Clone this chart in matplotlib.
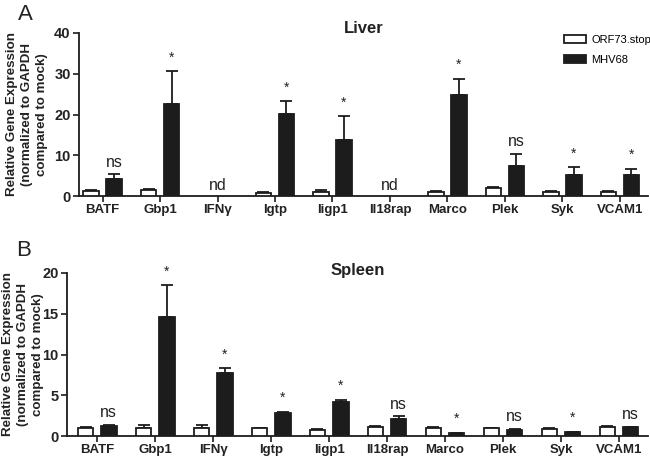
import numpy as np
import matplotlib
matplotlib.use("Agg")
import matplotlib.pyplot as plt
from matplotlib.patches import Patch

plt.rcParams['font.family'] = ['Liberation Sans', 'DejaVu Sans']

genes = ["BATF", "Gbp1", "IFNγ", "Igtp", "Iigp1", "Il18rap", "Marco", "Plek", "Syk", "VCAM1"]

# Liver (nan = not detected)
liver_stop = [1.2, 1.4, np.nan, 0.7, 1.1, np.nan, 0.9, 1.9, 1.0, 1.0]
liver_stop_err = [0.3, 0.4, np.nan, 0.2, 0.3, np.nan, 0.3, 0.4, 0.3, 0.2]
liver_mhv = [4.1, 22.6, np.nan, 20.2, 13.7, np.nan, 24.8, 7.3, 5.1, 5.2]
liver_mhv_err = [1.2, 8.0, np.nan, 3.1, 5.9, np.nan, 4.0, 3.1, 2.0, 1.5]
liver_sig = ["ns", "*", "nd", "*", "*", "nd", "*", "ns", "*", "*"]

# Spleen
spleen_stop = [1.0, 1.0, 1.0, 0.95, 0.75, 1.05, 1.0, 0.95, 0.9, 1.1]
spleen_stop_err = [0.05, 0.4, 0.35, 0.05, 0.1, 0.15, 0.1, 0.05, 0.05, 0.1]
spleen_mhv = [1.2, 14.6, 7.7, 2.8, 4.2, 2.1, 0.35, 0.75, 0.5, 1.05]
spleen_mhv_err = [0.2, 3.9, 0.6, 0.2, 0.25, 0.3, 0.05, 0.1, 0.05, 0.1]
spleen_sig = ["ns", "*", "*", "*", "*", "ns", "*", "ns", "*", "ns"]

W, H = 650, 458
fig = plt.figure(figsize=(6.5, 4.58), dpi=100)

txt = "#222222"
barc = "#1c1c1c"


def panel(rect, stop, stop_err, mhv, mhv_err, sig, ymax, ystep, xlim, title, tdy):
    ax = fig.add_axes(rect)
    x = np.arange(len(genes))
    off, bw = 0.2, 0.27
    stop = np.array(stop); mhv = np.array(mhv)
    se = np.array(stop_err); me = np.array(mhv_err)
    ok = ~np.isnan(stop)
    ax.bar(x[ok] - off, stop[ok], bw, color="white", edgecolor=barc, linewidth=1.3, zorder=3)
    ax.bar(x[ok] + off, mhv[ok], bw, color=barc, edgecolor=barc, linewidth=1.3, zorder=3)
    ax.errorbar(x[ok] - off, stop[ok], yerr=[np.zeros(ok.sum()), se[ok]], fmt="none",
                ecolor=barc, elinewidth=1.3, capsize=4, capthick=1.3, zorder=2)
    ax.errorbar(x[ok] + off, mhv[ok], yerr=[np.zeros(ok.sum()), me[ok]], fmt="none",
                ecolor=barc, elinewidth=1.3, capsize=4, capthick=1.3, zorder=2)
    for i, s in enumerate(sig):
        if s == "nd":
            ax.text(x[i], ymax * 0.02, s, ha="center", va="bottom", fontsize=11.5, color=txt)
            continue
        top = mhv[i] + me[i]
        if s == "*":
            ax.text(x[i] + off, top + ymax * 0.04, s, ha="center", va="bottom", fontsize=10, color=txt)
        else:
            ax.text(x[i] + off, top + ymax * 0.03, s, ha="center", va="bottom", fontsize=11.5, color=txt)
    ax.set_xlim(*xlim)
    ax.set_ylim(0, ymax)
    ax.set_yticks(np.arange(0, ymax + 1, ystep))
    ax.set_xticks(x)
    ax.set_xticklabels(genes, fontweight="bold", fontsize=9.5, color=txt)
    for lab in ax.get_yticklabels():
        lab.set_fontweight("bold")
        lab.set_fontsize(10.5)
        lab.set_color(txt)
    ax.tick_params(axis="both", direction="out", length=4, width=1.2, color=barc, pad=2)
    for s in ["top", "right"]:
        ax.spines[s].set_visible(False)
    for s in ["left", "bottom"]:
        ax.spines[s].set_linewidth(1.3)
        ax.spines[s].set_color(barc)
    ax.text(0.5, 1 + tdy / 163, title, transform=ax.transAxes, ha="center", va="center",
            fontsize=12, fontweight="bold", color=txt)
    ax.set_ylabel("Relative Gene Expression\n(normalized to GAPDH\ncompared to mock)",
                  fontsize=9.6, fontweight="bold", color=txt, linespacing=1.35)
    return ax


axA = panel([79 / W, 1 - 196 / H, 569 / W, 163 / H], liver_stop, liver_stop_err, liver_mhv,
            liver_mhv_err, liver_sig, 40, 10, (-0.41, 9.49), "Liver", 4.5)
axB = panel([67 / W, 1 - 436 / H, 581 / W, 163 / H], spleen_stop, spleen_stop_err, spleen_mhv,
            spleen_mhv_err, spleen_sig, 20, 5, (-0.52, 9.5), "Spleen", 2)

axA.yaxis.set_label_coords(-31 / 569, 0.5)
axB.yaxis.set_label_coords(-23 / 581, 0.5)

fig.text(18 / W, 1 - 15 / H, "A", fontsize=16, ha="left", va="center", color=txt)
fig.text(16 / W, 1 - 250 / H, "B", fontsize=16, ha="left", va="center", color=txt)

handles = [Patch(facecolor="white", edgecolor=barc, linewidth=1.3, label="ORF73.stop"),
           Patch(facecolor=barc, edgecolor=barc, linewidth=1.3, label="MHV68")]
axA.legend(handles=handles, loc="upper left", bbox_to_anchor=(558 / W, 1 - 29 / H),
           bbox_transform=fig.transFigure, frameon=False, fontsize=8, handlelength=2.0,
           handleheight=0.7, handletextpad=0.5, labelspacing=0.9, borderpad=0)

fig.savefig("out.png", dpi=100)
